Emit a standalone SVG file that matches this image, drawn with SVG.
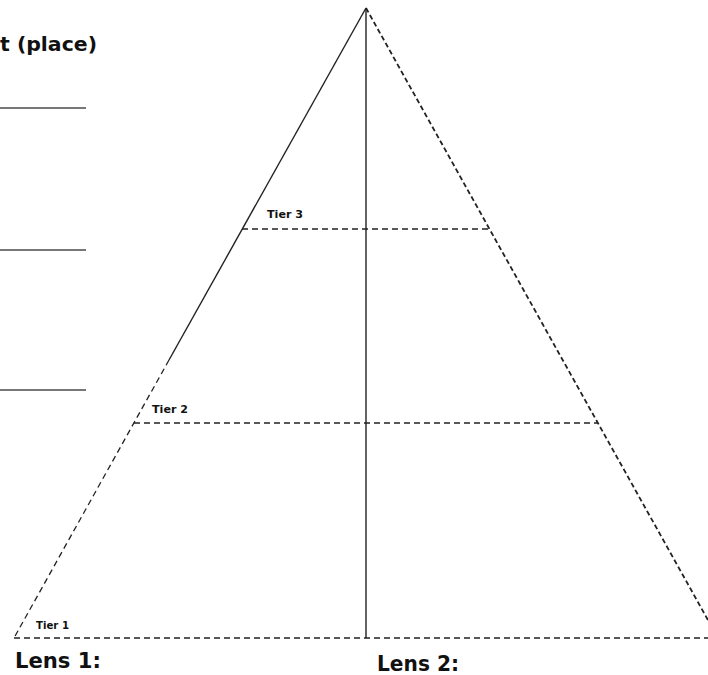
<svg xmlns="http://www.w3.org/2000/svg" width="708" height="675" viewBox="0 0 708 675">
<style>
.t{font-family:"DejaVu Sans","Liberation Sans",Arial,sans-serif;font-weight:bold;fill:#111}
.big{font-size:22px}
.small{font-size:10.5px}
.d{stroke:#222;fill:none;stroke-width:1.3;stroke-dasharray:6 4}
.s{stroke:#222;fill:none;stroke-width:1.4}
.blank{stroke:#777;stroke-width:2}
</style>
<rect width="708" height="675" fill="#fff"/>
<g id="header">
<text class="t" x="0" y="51" style="font-size:19px" textLength="97" lengthAdjust="spacingAndGlyphs">t (place)</text>
<line class="blank" x1="0" y1="108" x2="86" y2="108"/>
<line class="blank" x1="0" y1="250" x2="86" y2="250"/>
<line class="blank" x1="0" y1="390" x2="86" y2="390"/>
</g>
<g id="connectors">
<line class="s" x1="366" y1="8" x2="169" y2="360"/>
<line class="d" x1="169" y1="360" x2="14" y2="638"/>
<line class="d" x1="366" y1="8" x2="718" y2="638" style="stroke-width:1.8;stroke-dasharray:5 3"/>
<line class="s" x1="366" y1="8" x2="366" y2="638"/>
<line class="d" x1="14" y1="638" x2="708" y2="638"/>
<line class="d" x1="242" y1="229" x2="489" y2="229"/>
<line class="d" x1="134" y1="423" x2="598" y2="423"/>
</g>
<g id="tier3"><text class="t small" x="267" y="218" textLength="36" lengthAdjust="spacingAndGlyphs">Tier 3</text></g>
<g id="tier2"><text class="t small" x="152" y="413" textLength="36" lengthAdjust="spacingAndGlyphs">Tier 2</text></g>
<g id="tier1"><text class="t small" x="36" y="629" textLength="33" lengthAdjust="spacingAndGlyphs">Tier 1</text></g>
<g id="lens1"><text class="t big" x="15" y="668" textLength="86" lengthAdjust="spacingAndGlyphs">Lens 1:</text></g>
<g id="lens2"><text class="t big" x="377" y="671" textLength="82" lengthAdjust="spacingAndGlyphs">Lens 2:</text></g>
</svg>
